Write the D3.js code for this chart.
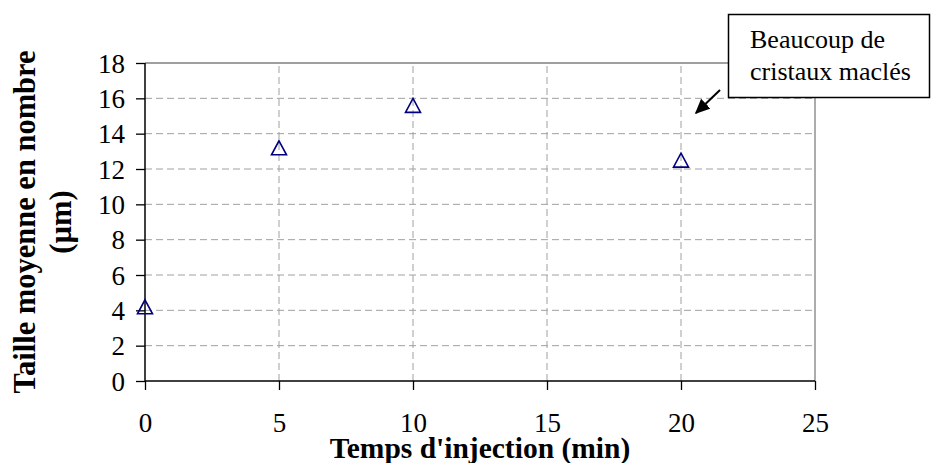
<!DOCTYPE html>
<html><head><meta charset="utf-8">
<script src="https://cdn.jsdelivr.net/npm/d3@7"></script>
<style>body{margin:0;background:#fff}svg{display:block}</style>
</head><body>
<svg id="c" width="932" height="463"></svg>
<script>
const times = [0, 5, 10, 20];
const sizes = [4.2, 13.2, 15.6, 12.5];
const xTicks = [0, 5, 10, 15, 20, 25];
const yTicks = [0, 2, 4, 6, 8, 10, 12, 14, 16, 18];
const xTitle = "Temps d'injection (min)";
const yTitleLines = ["Taille moyenne en nombre", "(µm)"];
const noteLines = ["Beaucoup de", "cristaux maclés"];

const svg = d3.select("#c");
const font = "'Liberation Serif','Times New Roman',serif";
const x = d3.scaleLinear().domain([0, 25]).range([145, 815]);
const y = d3.scaleLinear().domain([0, 18]).range([381, 63]);

// grid
svg.append("g").selectAll("line").data(yTicks.filter(d => d > 0 && d < 18)).join("line")
  .attr("x1", x(0)).attr("x2", x(25)).attr("y1", d => y(d)).attr("y2", d => y(d))
  .attr("stroke", "#a0a0a0").attr("stroke-width", 1).attr("stroke-dasharray", "7,4");
svg.append("g").selectAll("line").data(xTicks.filter(d => d > 0 && d < 25)).join("line")
  .attr("y1", y(0)).attr("y2", y(18)).attr("x1", d => x(d)).attr("x2", d => x(d))
  .attr("stroke", "#a0a0a0").attr("stroke-width", 1).attr("stroke-dasharray", "7,4");

// plot border top/right
svg.append("path").attr("d", `M${x(0)},${y(18)}H${x(25)}V${y(0)}`)
  .attr("fill", "none").attr("stroke", "#808080").attr("stroke-width", 1.3);

// axes
const xa = svg.append("g").attr("transform", `translate(0,${y(0)})`)
  .call(d3.axisBottom(x).tickValues(xTicks).tickSize(9).tickPadding(24).tickSizeOuter(0));
const ya = svg.append("g").attr("transform", `translate(${x(0)},0)`)
  .call(d3.axisLeft(y).tickValues(yTicks).tickSize(9).tickPadding(11).tickSizeOuter(0));
[xa, ya].forEach(a => {
  a.select(".domain").attr("stroke", "#000").attr("stroke-width", 1.5);
  a.selectAll(".tick line").attr("stroke", "#000").attr("stroke-width", 1.3);
  a.selectAll("text").attr("font-family", font).attr("font-size", 27).attr("fill", "#000");
});
ya.selectAll("text").attr("dy", "0.34em");
xa.selectAll("text").attr("dy", "0.68em");
xa.select(".domain").attr("d", `M${x(0)},0H${x(25)}`);
ya.select(".domain").attr("d", `M0,${y(0)}V${y(18)}`);

// markers
svg.append("g").selectAll("path").data(times.map((t, i) => [t, sizes[i]])).join("path")
  .attr("transform", d => `translate(${x(d[0])},${y(d[1])})`)
  .attr("d", "M0,-7L7.5,7L-7.5,7Z")
  .attr("fill", "none").attr("stroke", "#000080").attr("stroke-width", 1.6);

// titles
svg.append("text").attr("x", (x(0) + x(25)) / 2).attr("y", 458)
  .attr("text-anchor", "middle").attr("font-family", font).attr("font-weight", "bold")
  .attr("font-size", 29.5).text(xTitle);
const yt = svg.append("text").attr("transform", `translate(35,${(y(0) + y(18)) / 2}) rotate(-90)`)
  .attr("text-anchor", "middle").attr("font-family", font).attr("font-weight", "bold")
  .attr("font-size", 30.5);
yTitleLines.forEach((l, i) => yt.append("tspan").attr("x", 0).attr("y", i * 36).text(l));

// annotation box
svg.append("rect").attr("x", 728.5).attr("y", 14.5).attr("width", 201).attr("height", 83)
  .attr("fill", "#fff").attr("stroke", "#000").attr("stroke-width", 1.5);
const nt = svg.append("text").attr("font-family", font).attr("font-size", 26).attr("fill", "#000");
noteLines.forEach((l, i) => nt.append("tspan").attr("x", 750).attr("y", 48 + i * 32).text(l));

// arrow
svg.append("defs").append("marker").attr("id", "ah").attr("viewBox", "0 0 10 10")
  .attr("refX", 9).attr("refY", 5).attr("markerWidth", 15).attr("markerHeight", 15)
  .attr("markerUnits", "userSpaceOnUse").attr("orient", "auto")
  .append("path").attr("d", "M0,0.5L10,5L0,9.5Z").attr("fill", "#000");
svg.append("line").attr("x1", 720).attr("y1", 90).attr("x2", 696).attr("y2", 113)
  .attr("stroke", "#000").attr("stroke-width", 2).attr("marker-end", "url(#ah)");
</script>
</body></html>
